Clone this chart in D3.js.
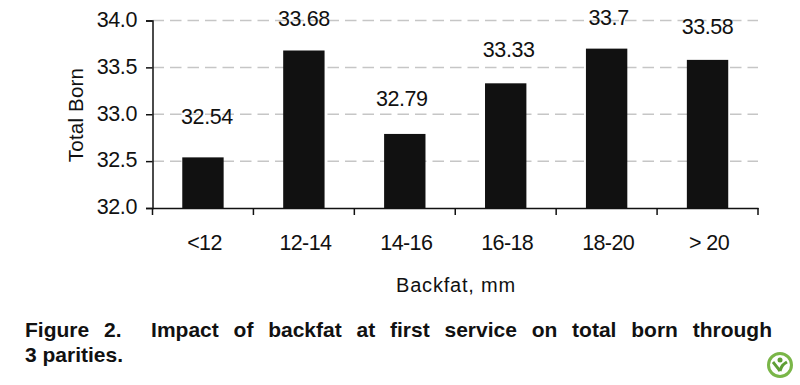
<!DOCTYPE html>
<html>
<head>
<meta charset="utf-8">
<script src="https://cdn.jsdelivr.net/npm/d3@7"></script>
<style>
  html, body { margin: 0; padding: 0; background: #fff; }
  #chart { position: relative; width: 800px; height: 385px; overflow: hidden; }
  svg { position: absolute; left: 0; top: 0; }
  svg text { font-family: "Liberation Sans", Arial, sans-serif; fill: #111; }
  #caption {
    position: absolute; left: 25px; top: 317px; width: 747px;
    font: bold 21px/25px "Liberation Sans", Arial, sans-serif;
    color: #111; white-space: nowrap;
  }
  #caption div:first-child { white-space: normal; text-align: justify; text-align-last: justify; }
</style>
</head>
<body>
<div id="chart"></div>
<script>
// values
var categories = ["<12", "12-14", "14-16", "16-18", "18-20", "> 20"];
var totalBorn = [32.54, 33.68, 32.79, 33.33, 33.7, 33.58];
var yTicks = [32, 32.5, 33, 33.5, 34];
var captionLines = [
  "Figure 2.\u00a0 Impact of backfat at first service on total born through",
  "3 parities."
];

// hand placed labels, the original chart doesn't sit them evenly
var labelNudgeX = [4, 0, -3, 3, 2, 0];
var labelGap = [33, 25, 28, 26, 24, 26];

var margin = { top: 20.5, right: 42, bottom: 177, left: 152.5 };
var width = 800 - margin.left - margin.right;
var height = 385 - margin.top - margin.bottom;

var root = d3.select("#chart");

var svg = root.append("svg")
  .attr("width", 800)
  .attr("height", 385);

var g = svg.append("g")
  .attr("transform", "translate(" + margin.left + "," + margin.top + ")");

var x = d3.scaleBand().domain(categories).range([0, width]);
var y = d3.scaleLinear().domain([32, 34]).range([height, 0]);

// grid
g.selectAll(".grid")
  .data(yTicks.slice(1))
  .enter().append("line")
    .attr("class", "grid")
    .attr("x1", 0)
    .attr("x2", width)
    .attr("y1", function(d) { return y(d); })
    .attr("y2", function(d) { return y(d); })
    .attr("stroke", "#c6c6c6")
    .attr("stroke-width", 1.5)
    .attr("stroke-dasharray", "11.5 6");

// bars
var barWidth = x.bandwidth() * 0.41;
g.selectAll(".bar")
  .data(totalBorn)
  .enter().append("rect")
    .attr("class", "bar")
    .attr("x", function(d, i) { return x(categories[i]) + (x.bandwidth() - barWidth) / 2; })
    .attr("width", barWidth)
    .attr("y", function(d) { return y(d); })
    .attr("height", function(d) { return height - y(d); })
    .attr("fill", "#111");

// y axis
var yAxis = g.append("g")
  .call(d3.axisLeft(y).tickValues(yTicks).tickSize(6.5).tickPadding(9).tickFormat(d3.format(".1f")));

// x axis, ticks go on the band edges so the tick labels are added apart
var xAxis = g.append("g")
  .attr("transform", "translate(0," + height + ")")
  .call(d3.axisBottom(x).tickSize(0).tickPadding(27));

xAxis.selectAll(".edge")
  .data(d3.range(categories.length + 1))
  .enter().append("line")
    .attr("class", "edge")
    .attr("x1", function(d) { return d * x.step(); })
    .attr("x2", function(d) { return d * x.step(); })
    .attr("y2", 7)
    .attr("stroke", "#111")
    .attr("stroke-width", 1.5);

[yAxis, xAxis].forEach(function(a) {
  a.selectAll(".domain").attr("stroke", "#111").attr("stroke-width", 1.5);
  a.selectAll(".tick line").attr("stroke", "#111").attr("stroke-width", 1.5);
  a.selectAll("text")
    .attr("font-size", 21.5)
    .attr("letter-spacing", -0.4)
    .attr("font-family", null)
    .attr("fill", "#111");
});
yAxis.selectAll("text").attr("dy", "0.27em");
xAxis.selectAll("text").attr("dx", 1.5).attr("letter-spacing", -0.6);

// value labels
g.selectAll(".value")
  .data(totalBorn)
  .enter().append("text")
    .attr("class", "value")
    .attr("x", function(d, i) { return x(categories[i]) + x.bandwidth() / 2 + labelNudgeX[i]; })
    .attr("y", function(d, i) { return y(d) - labelGap[i]; })
    .attr("text-anchor", "middle")
    .attr("font-size", 21.5)
    .attr("letter-spacing", -0.4)
    .text(function(d) { return d; });

// axis titles
svg.append("text")
  .attr("transform", "translate(83,115) rotate(-90)")
  .attr("text-anchor", "middle")
  .attr("font-size", 20.5)
  .attr("letter-spacing", 0.2)
  .text("Total Born");

svg.append("text")
  .attr("x", 456)
  .attr("y", 292)
  .attr("text-anchor", "middle")
  .attr("font-size", 20)
  .attr("letter-spacing", 0.8)
  .text("Backfat, mm");

// caption, html so that justify works
root.append("div")
  .attr("id", "caption")
  .selectAll("div")
  .data(captionLines)
  .enter().append("div")
    .text(function(d) { return d; });

// little green badge bottom right
var badge = svg.append("g").attr("transform", "translate(780,365)");
badge.append("circle").attr("r", 11.5).attr("fill", "#fff").attr("stroke", "#7ab648").attr("stroke-width", 3);
badge.append("circle").attr("cy", -5).attr("r", 2.5).attr("fill", "#5f9e35");
badge.append("path")
  .attr("d", d3.line().curve(d3.curveBasis)([[-7, -3], [-3, 2], [0, 6]]))
  .attr("fill", "none").attr("stroke", "#5f9e35").attr("stroke-width", 3);
badge.append("path")
  .attr("d", d3.line().curve(d3.curveBasis)([[0, 6], [2, 0], [7, -3]]))
  .attr("fill", "none").attr("stroke", "#5f9e35").attr("stroke-width", 3);
</script>
</body>
</html>
